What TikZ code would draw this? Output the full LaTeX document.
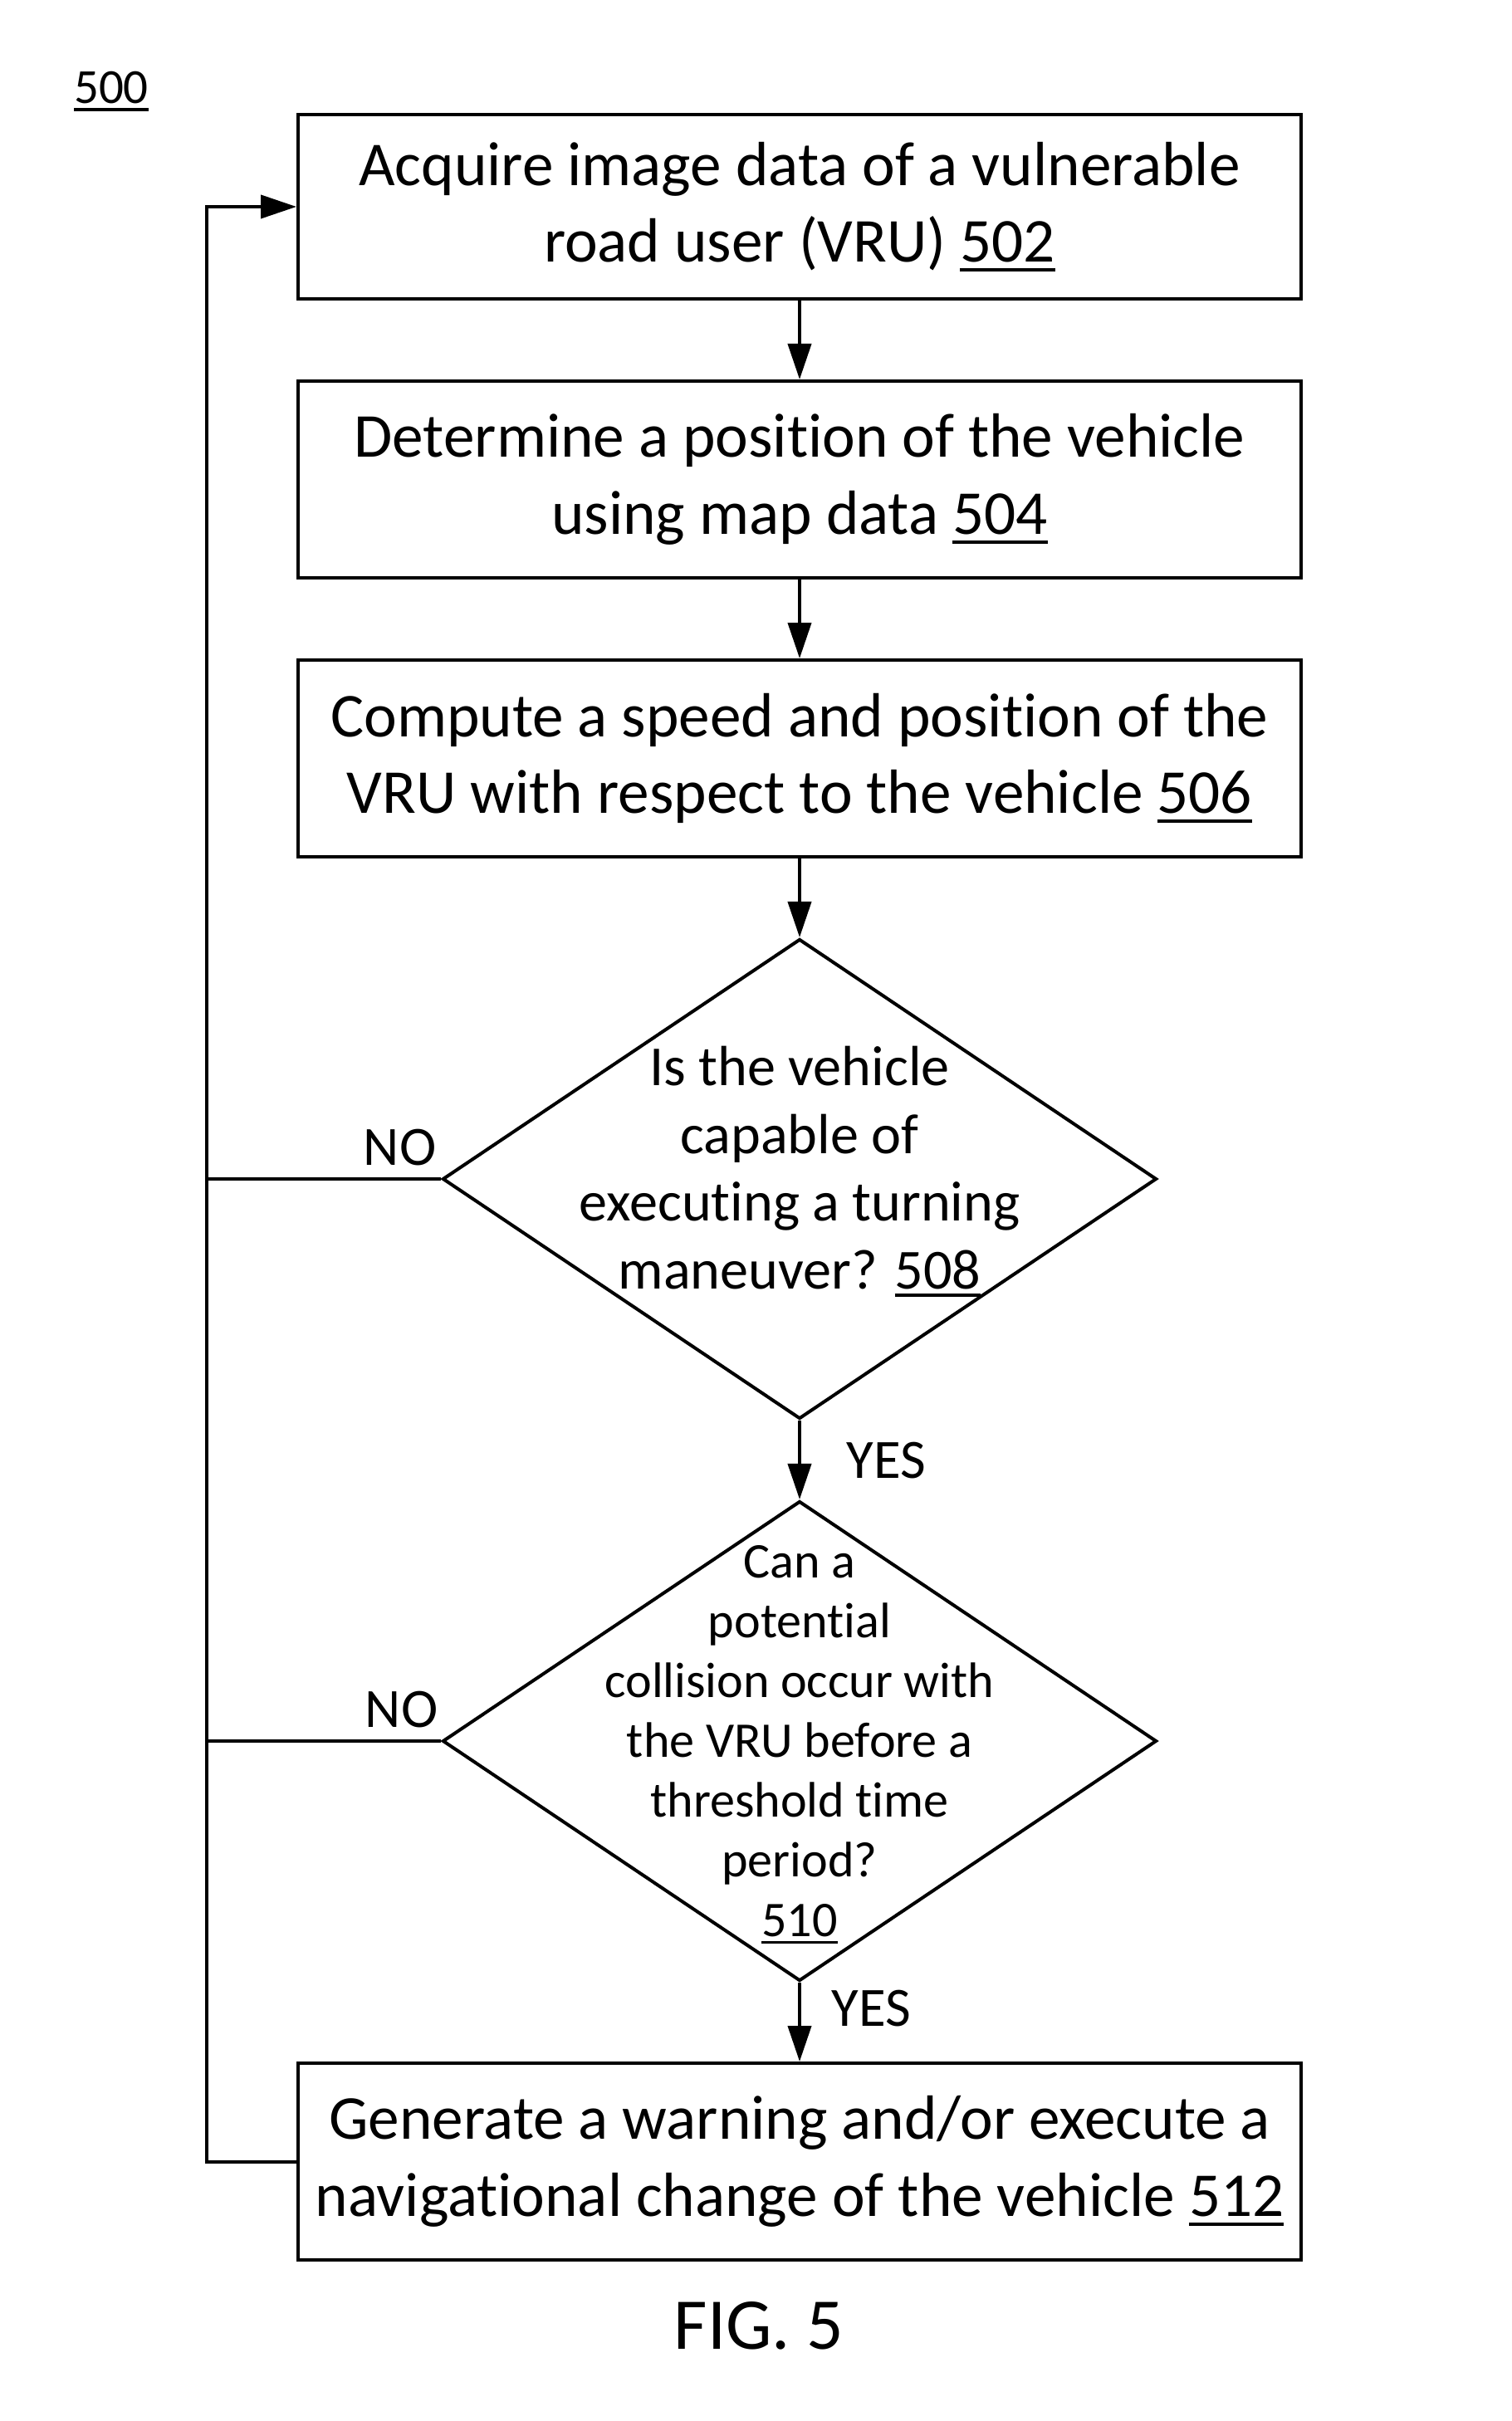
\documentclass[tikz,border=0pt]{standalone}
\usepackage{fontspec}
\setmainfont{Carlito}[Ligatures=CommonOff]
\usetikzlibrary{positioning,shapes.geometric,arrows.meta}

\newsavebox{\refbox}
\newcommand{\refnum}[1]{\leavevmode\sbox{\refbox}{#1}\rlap{\rule[-0.15em]{\wd\refbox}{1.1pt}}\usebox{\refbox}}

\begin{document}
\begin{tikzpicture}[
        node distance=9.5mm,
        process/.style={
            rectangle,
            draw=black,
            line width=0.4mm,
            minimum width=120.8mm,
            minimum height=23.7mm,
            inner sep=0pt,
            align=center,
            font=\fontsize{21.4}{26.3}\selectfont
        },
        decision/.style={
            diamond,
            draw=black,
            line width=0.4mm,
            minimum width=86mm,
            minimum height=57.8mm,
            shape aspect=1.49,
            inner sep=0pt
        },
        flow/.style={
            -{Triangle[length=4.3mm,width=2.8mm]},
            line width=0.4mm
        },
        plain/.style={
            line width=0.4mm
        },
        answer/.style={
            inner sep=0pt,
            font=\fontsize{19}{22}\selectfont
        }
    ]
    \useasboundingbox (0,0) rectangle (182mm,-291.6mm);

    \node (fignum) at (13.4mm,-11mm) {\fontsize{16.8}{20}\selectfont\refnum{500}};

    \node[process, minimum height=22.2mm] (b502) at (96.3mm,-24.9mm)
        {Acquire image data of a vulnerable\\road user (VRU) \refnum{502}};

    \node[process, below=of b502] (b504)
        {Determine a position of the vehicle\\using map data \refnum{504}};

    \node[process, below=of b504] (b506)
        {Compute a speed and position of the\\VRU with respect to the vehicle \refnum{506}};

    \node[decision, below=of b506] (d508)
        {\smash{\parbox[c]{62mm}{\centering\fontsize{19.4}{23.2}\selectfont
            Is the vehicle\\capable of\\executing a turning\\maneuver? \refnum{508}}}};

    \node[decision, below=of d508] (d510)
        {\smash{\raisebox{-1.3mm}{\parbox[c]{62mm}{\centering\fontsize{17.1}{20.5}\selectfont
            Can a\\potential\\collision occur with\\the VRU before a\\threshold time\\period?\\\refnum{510}}}}};

    \node[process, below=of d510] (b512)
        {Generate a warning and/or execute a\\navigational change of the vehicle \refnum{512}};

    \node[below=4.8mm of b512.south, xshift=-4.9mm, inner sep=0pt,
        font=\fontsize{25}{30}\selectfont] (caption) {FIG. 5};

    % main flow
    \draw[flow] (b502) -- (b504);
    \draw[flow] (b504) -- (b506);
    \draw[flow] (b506) -- (d508);
    \draw[flow] (d508) -- (d510);
    \draw[flow] (d510) -- (b512);

    % loop back to the start
    \coordinate[left=10.8mm of b512.west] (back);
    \draw[flow] (b512.west) -- (back) |- (b502.west);
    \draw[plain] (d508.west) -- (d508.west -| back);
    \draw[plain] (d510.west) -- (d510.west -| back);

    \node[answer, above left=1.5mm and 0.5mm of d508.west] (no508) {NO};
    \node[answer, above left=1.5mm and 0.3mm of d510.west] (no510) {NO};
    \node[answer, below right=2.5mm and 5.6mm of d508.south] (yes508) {YES};
    \node[answer, below right=0.8mm and 3.8mm of d510.south] (yes510) {YES};

\end{tikzpicture}
\end{document}
